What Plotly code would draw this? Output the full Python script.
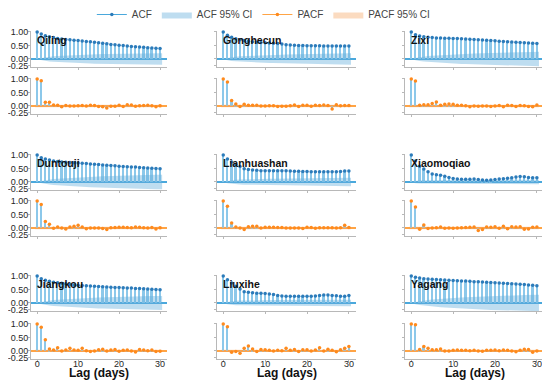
import plotly.graph_objects as go

# ---------------- data ----------------
stations = ["Qiling", "Gonghecun", "Zixi", "Duntouji", "Lianhuashan",
            "Xiaomoqiao", "Jiangkou", "Liuxihe", "Yagang"]
lags = list(range(31))
x_ticks = [0, 10, 20, 30]
y_ticks = [-0.25, 0.0, 0.5, 1.0]
y_tick_labels = ["-0.25", "0.00", "0.50", "1.00"]

acf_qiling = [1.0, 0.92, 0.86, 0.82, 0.79, 0.76, 0.74, 0.725, 0.71, 0.695, 0.68, 0.665, 0.65, 0.635, 0.62, 0.60,
              0.58, 0.56, 0.54, 0.525, 0.51, 0.495, 0.48, 0.465, 0.45, 0.44, 0.43, 0.42, 0.41, 0.40, 0.39]
acf_gonghecun = [1.0, 0.88, 0.80, 0.75, 0.71, 0.68, 0.66, 0.64, 0.62, 0.61, 0.60, 0.59, 0.58, 0.57, 0.55, 0.53,
                 0.52, 0.51, 0.50, 0.50, 0.49, 0.49, 0.49, 0.49, 0.48, 0.48, 0.48, 0.48, 0.48, 0.48, 0.48]
acf_zixi = [1.0, 0.90, 0.85, 0.82, 0.80, 0.79, 0.78, 0.775, 0.77, 0.765, 0.76, 0.755, 0.75, 0.74, 0.73, 0.72,
            0.71, 0.70, 0.69, 0.68, 0.67, 0.66, 0.65, 0.64, 0.63, 0.62, 0.61, 0.60, 0.59, 0.58, 0.57]
acf_duntouji = [1.0, 0.90, 0.85, 0.81, 0.78, 0.76, 0.74, 0.73, 0.72, 0.71, 0.70, 0.69, 0.68, 0.67, 0.66, 0.65,
                0.63, 0.62, 0.61, 0.60, 0.58, 0.57, 0.56, 0.55, 0.55, 0.54, 0.53, 0.52, 0.51, 0.50, 0.49]
acf_lianhuashan = [1.0, 0.85, 0.74, 0.65, 0.57, 0.49, 0.46, 0.44, 0.43, 0.42, 0.42, 0.42, 0.42, 0.42, 0.42, 0.42,
                   0.41, 0.40, 0.40, 0.39, 0.39, 0.38, 0.38, 0.38, 0.38, 0.38, 0.38, 0.38, 0.39, 0.41, 0.41]
acf_xiaomoqiao = [1.0, 0.78, 0.58, 0.48, 0.38, 0.30, 0.27, 0.25, 0.21, 0.17, 0.13, 0.11, 0.10, 0.10, 0.10, 0.11,
                  0.09, 0.07, 0.06, 0.07, 0.09, 0.11, 0.12, 0.14, 0.16, 0.18, 0.20, 0.19, 0.17, 0.16, 0.16]
acf_jiangkou = [1.0, 0.90, 0.84, 0.80, 0.77, 0.75, 0.73, 0.71, 0.69, 0.67, 0.66, 0.65, 0.64, 0.63, 0.62, 0.61,
                0.60, 0.59, 0.58, 0.575, 0.57, 0.56, 0.555, 0.55, 0.54, 0.535, 0.53, 0.52, 0.51, 0.50, 0.49]
acf_liuxihe = [1.0, 0.86, 0.74, 0.62, 0.52, 0.42, 0.40, 0.38, 0.36, 0.36, 0.35, 0.33, 0.31, 0.28, 0.26, 0.25,
               0.25, 0.25, 0.25, 0.25, 0.25, 0.25, 0.26, 0.28, 0.30, 0.30, 0.28, 0.27, 0.25, 0.25, 0.28]
acf_yagang = [1.0, 0.95, 0.92, 0.90, 0.89, 0.88, 0.87, 0.86, 0.855, 0.845, 0.835, 0.825, 0.815, 0.81, 0.80, 0.79,
              0.785, 0.78, 0.77, 0.76, 0.75, 0.74, 0.73, 0.72, 0.71, 0.70, 0.69, 0.68, 0.67, 0.655, 0.64]

# ACF 95% CI half-widths
ci_qiling = [0, 0.044, 0.072, 0.090, 0.104, 0.114, 0.123, 0.131, 0.139, 0.146, 0.153, 0.159, 0.165, 0.170, 0.175, 0.180,
             0.184, 0.188, 0.191, 0.194, 0.197, 0.200, 0.202, 0.204, 0.206, 0.208, 0.209, 0.210, 0.211, 0.212, 0.213]
ci_gonghecun = [0, 0.044, 0.070, 0.086, 0.098, 0.107, 0.115, 0.122, 0.129, 0.135, 0.141, 0.146, 0.151, 0.156, 0.161, 0.165,
                0.169, 0.173, 0.177, 0.180, 0.184, 0.187, 0.190, 0.193, 0.196, 0.199, 0.202, 0.205, 0.208, 0.211, 0.214]
ci_zixi = [0, 0.044, 0.073, 0.092, 0.107, 0.120, 0.131, 0.141, 0.150, 0.159, 0.167, 0.175, 0.182, 0.189, 0.196, 0.202,
           0.208, 0.214, 0.219, 0.224, 0.229, 0.234, 0.238, 0.242, 0.246, 0.250, 0.254, 0.257, 0.260, 0.263, 0.266]
ci_duntouji = [0, 0.044, 0.074, 0.094, 0.110, 0.123, 0.134, 0.144, 0.153, 0.162, 0.170, 0.178, 0.185, 0.192, 0.199, 0.205,
               0.211, 0.217, 0.222, 0.227, 0.232, 0.236, 0.240, 0.244, 0.248, 0.252, 0.256, 0.259, 0.262, 0.265, 0.268]
ci_lianhuashan = [0, 0.044, 0.068, 0.082, 0.092, 0.099, 0.103, 0.106, 0.109, 0.112, 0.115, 0.117, 0.120, 0.122, 0.125, 0.127,
                  0.129, 0.131, 0.133, 0.135, 0.137, 0.139, 0.140, 0.142, 0.144, 0.145, 0.147, 0.148, 0.150, 0.152, 0.154]
ci_xiaomoqiao = [0, 0.044, 0.060, 0.067, 0.071, 0.073, 0.074, 0.075, 0.076, 0.076, 0.077, 0.077, 0.077, 0.077, 0.077, 0.077,
                 0.077, 0.077, 0.077, 0.077, 0.077, 0.077, 0.078, 0.078, 0.078, 0.078, 0.079, 0.079, 0.080, 0.080, 0.080]
ci_jiangkou = [0, 0.044, 0.074, 0.093, 0.109, 0.122, 0.133, 0.143, 0.152, 0.160, 0.168, 0.175, 0.182, 0.189, 0.195, 0.201,
               0.207, 0.212, 0.217, 0.222, 0.227, 0.231, 0.235, 0.239, 0.243, 0.247, 0.251, 0.254, 0.257, 0.260, 0.263]
ci_liuxihe = [0, 0.044, 0.068, 0.080, 0.088, 0.093, 0.096, 0.098, 0.100, 0.102, 0.104, 0.105, 0.106, 0.107, 0.108, 0.109,
              0.110, 0.111, 0.112, 0.113, 0.113, 0.114, 0.115, 0.116, 0.117, 0.118, 0.119, 0.120, 0.121, 0.122, 0.123]
ci_yagang = [0, 0.044, 0.075, 0.096, 0.114, 0.129, 0.143, 0.155, 0.166, 0.177, 0.187, 0.196, 0.205, 0.213, 0.221, 0.229,
             0.236, 0.243, 0.249, 0.255, 0.261, 0.266, 0.271, 0.276, 0.281, 0.285, 0.289, 0.293, 0.297, 0.300, 0.303]

pacf_qiling = [1.0, 0.93, 0.14, 0.14, 0.04, 0.03, -0.03, 0.02, 0.0, 0.0, 0.01, 0.02, 0.0, 0.03, 0.02, -0.02,
               -0.03, -0.07, -0.01, -0.01, 0.03, -0.02, 0.05, 0.04, -0.01, 0.01, 0.02, 0.03, 0.01, -0.03, 0.01]
pacf_gonghecun = [1.0, 0.89, 0.20, 0.07, -0.02, 0.06, 0.03, 0.03, 0.03, 0.0, 0.0, 0.01, 0.01, -0.02, -0.01, -0.01,
                  0.01, 0.04, -0.02, 0.03, 0.03, -0.01, 0.03, 0.02, 0.04, 0.02, -0.11, 0.05, 0.01, 0.02, 0.02]
pacf_zixi = [1.0, 0.92, 0.03, 0.05, 0.05, 0.09, 0.15, 0.03, 0.06, 0.07, 0.06, 0.03, 0.03, 0.01, -0.03, 0.0,
             -0.01, 0.0, 0.0, -0.02, 0.0, 0.02, -0.03, 0.03, 0.02, -0.02, 0.02, 0.01, -0.02, -0.03, 0.04]
pacf_duntouji = [1.0, 0.87, 0.24, 0.14, -0.01, 0.04, 0.0, -0.04, 0.04, 0.06, 0.10, 0.04, -0.03, 0.0, 0.0, 0.0,
                 -0.02, -0.06, 0.01, 0.02, 0.03, 0.03, 0.02, 0.01, 0.04, 0.03, 0.01, 0.0, 0.02, -0.04, 0.01]
pacf_lianhuashan = [1.0, 0.80, 0.18, 0.04, 0.0, -0.06, 0.05, 0.06, 0.06, 0.0, 0.03, 0.03, 0.03, 0.02, 0.02, 0.0,
                    0.0, 0.0, 0.0, -0.02, 0.03, 0.02, -0.01, 0.01, 0.01, 0.01, 0.01, 0.0, 0.01, 0.10, 0.02]
pacf_xiaomoqiao = [1.0, 0.78, -0.05, 0.11, -0.02, 0.0, 0.01, 0.04, -0.01, 0.0, -0.01, 0.0, 0.01, 0.02, 0.03, 0.04,
                   -0.09, -0.06, 0.04, 0.03, 0.05, -0.01, 0.06, -0.03, 0.05, 0.04, 0.05, -0.05, -0.04, 0.03, 0.04]
pacf_jiangkou = [1.0, 0.88, 0.41, 0.07, 0.03, 0.12, 0.0, 0.03, 0.10, 0.03, 0.02, 0.10, 0.01, -0.02, 0.0, 0.04,
                 0.06, 0.0, 0.03, 0.05, -0.01, 0.02, 0.03, 0.0, -0.04, 0.05, 0.03, 0.01, 0.03, -0.02, -0.01]
pacf_liuxihe = [1.0, 0.90, -0.05, -0.02, -0.09, 0.10, 0.18, 0.07, -0.02, 0.05, 0.04, 0.02, 0.0, 0.02, 0.01, 0.10,
                0.02, 0.05, -0.02, 0.04, 0.04, 0.0, 0.03, 0.12, 0.0, 0.06, 0.02, -0.03, 0.04, 0.10, 0.16]
pacf_yagang = [1.0, 0.97, 0.05, 0.16, 0.10, 0.04, 0.04, 0.07, 0.0, 0.0, 0.02, 0.03, 0.02, 0.02, 0.01, 0.02,
               0.0, -0.01, 0.02, 0.02, 0.03, 0.01, 0.03, 0.02, 0.0, -0.03, 0.02, 0.06, 0.05, -0.05, 0.0]

pacf_ci = [0.045, 0.045, 0.045, 0.05, 0.045, 0.045, 0.045, 0.045, 0.045]

acf_list = [acf_qiling, acf_gonghecun, acf_zixi, acf_duntouji, acf_lianhuashan,
            acf_xiaomoqiao, acf_jiangkou, acf_liuxihe, acf_yagang]
ci_list = [ci_qiling, ci_gonghecun, ci_zixi, ci_duntouji, ci_lianhuashan,
           ci_xiaomoqiao, ci_jiangkou, ci_liuxihe, ci_yagang]
pacf_list = [pacf_qiling, pacf_gonghecun, pacf_zixi, pacf_duntouji, pacf_lianhuashan,
             pacf_xiaomoqiao, pacf_jiangkou, pacf_liuxihe, pacf_yagang]

# ---------------- style ----------------
FONT = "Liberation Sans, Arial, sans-serif"
STEM = "#8cc8ea"
ACF_MK = "#2b7bba"
ACF_ZERO = "#4aa8dc"
ACF_FILL = "rgba(100,175,220,0.42)"
PACF_MK = "#ff8a1c"
PACF_ZERO = "#ffa445"
PACF_FILL = "rgba(245,160,90,0.38)"
AXIS = "#b8b8b8"

# the page body adds an 8 px offset, so the figure is 542 x 377
col_domains = [(0.0039, 0.268), (0.3650, 0.6350), (0.7301, 1.0)]
acf_rows = [(0.8872, 0.9982), (0.5134, 0.6243), (0.1456, 0.2565)]
pacf_rows = [(0.7444, 0.8553), (0.3736, 0.4845), (0.0, 0.1106)]


def sfx(i):
    return "" if i == 1 else str(i)


fig = go.Figure()
layout = {}
annotations = []

band_x = [lags[0] - 0.5] + lags[1:-1] + [lags[-1] + 0.5]

for s, name in enumerate(stations):
    r, c = divmod(s, 3)
    ia, ip = 2 * s + 1, 2 * s + 2
    xa, ya = "x" + sfx(ia), "y" + sfx(ia)
    xp, yp = "x" + sfx(ip), "y" + sfx(ip)
    acf = acf_list[s]
    ci = ci_list[s]
    pacf = pacf_list[s]
    first = (s == 0)

    # ACF band
    fig.add_trace(go.Scatter(
        x=band_x + band_x[::-1], y=ci + [-v for v in ci[::-1]],
        fill="toself", fillcolor=ACF_FILL, line=dict(width=0), mode="lines",
        name="ACF 95% CI", showlegend=first, legendrank=2, hoverinfo="skip",
        xaxis=xa, yaxis=ya))
    fig.add_trace(go.Bar(x=lags, y=acf, width=0.42, marker=dict(color=STEM, line=dict(width=0)),
                         showlegend=False, xaxis=xa, yaxis=ya))
    fig.add_trace(go.Scatter(x=lags, y=acf, mode="markers", cliponaxis=False,
                             marker=dict(color=ACF_MK, size=3.5), showlegend=False,
                             xaxis=xa, yaxis=ya))
    # PACF band
    pc = pacf_ci[s]
    fig.add_trace(go.Scatter(
        x=band_x + band_x[::-1], y=[pc] * len(band_x) + [-pc] * len(band_x),
        fill="toself", fillcolor=PACF_FILL, line=dict(width=0), mode="lines",
        name="PACF 95% CI", showlegend=first, legendrank=4, hoverinfo="skip",
        xaxis=xp, yaxis=yp))
    fig.add_trace(go.Bar(x=lags, y=pacf, width=0.42, marker=dict(color=STEM, line=dict(width=0)),
                         showlegend=False, xaxis=xp, yaxis=yp))
    fig.add_trace(go.Scatter(x=lags, y=pacf, mode="markers", cliponaxis=False,
                             marker=dict(color=PACF_MK, size=3.5), showlegend=False,
                             xaxis=xp, yaxis=yp))

    for idx, ydom, zc in ((ia, acf_rows[r], ACF_ZERO), (ip, pacf_rows[r], PACF_ZERO)):
        bottom = (idx == ip and r == 2)
        layout["xaxis" + sfx(idx)] = dict(
            domain=col_domains[c], anchor="y" + sfx(idx), range=[-1.5, 31.7],
            tickvals=x_ticks, showticklabels=bottom, ticks="outside", ticklen=2,
            tickcolor=AXIS, showline=True, linecolor=AXIS, linewidth=1.2,
            showgrid=False, zeroline=False, ticklabelstandoff=-6,
            tickfont=dict(family=FONT, size=9, color="#262626"))
        layout["yaxis" + sfx(idx)] = dict(
            domain=ydom, anchor="x" + sfx(idx), range=[-0.3, 1.05],
            tickvals=y_ticks, ticktext=y_tick_labels, showticklabels=(c == 0),
            ticks="outside", ticklen=2, tickcolor=AXIS, showline=True,
            linecolor=AXIS, linewidth=1.0, showgrid=False,
            zeroline=True, zerolinecolor=zc, zerolinewidth=1.5,
            ticklabelstandoff=-2,
            tickfont=dict(family=FONT, size=9, color="#262626"))

    annotations.append(dict(
        text=f"<b>{name}</b>", xref=xa + " domain", yref=ya + " domain",
        x=0.03, y=0.74, xanchor="left", yanchor="middle", showarrow=False,
        font=dict(family=FONT, size=10.5, color="#111111")))

    if r == 2:
        annotations.append(dict(
            text="<b>Lag (days)</b>", xref=xp + " domain", yref="paper",
            x=0.5, y=-0.0422, xanchor="center", yanchor="middle", showarrow=False,
            font=dict(family=FONT, size=12, color="#111111")))

# legend-only entries for the stem series
fig.add_trace(go.Scatter(x=[None], y=[None], mode="lines+markers", name="ACF",
                         line=dict(color=ACF_ZERO, width=1.2),
                         marker=dict(color=ACF_MK, size=3.5), legendrank=1,
                         xaxis="x", yaxis="y"))
fig.add_trace(go.Scatter(x=[None], y=[None], mode="lines+markers", name="PACF",
                         line=dict(color=PACF_ZERO, width=1.2),
                         marker=dict(color=PACF_MK, size=3.5), legendrank=3,
                         xaxis="x2", yaxis="y2"))

fig.update_layout(
    **layout,
    annotations=annotations,
    width=542, height=377,
    margin=dict(l=21, r=6, t=22, b=26, autoexpand=False),
    paper_bgcolor="white", plot_bgcolor="white",
    font=dict(family=FONT, size=10, color="#333333"),
    bargap=0,
    legend=dict(orientation="h", xref="container", yref="container",
                x=0.472, y=0.9828, xanchor="center", yanchor="middle",
                font=dict(family=FONT, size=10, color="#444444"),
                itemwidth=30, bgcolor="rgba(0,0,0,0)"),
)

fig.write_html("out.html")
